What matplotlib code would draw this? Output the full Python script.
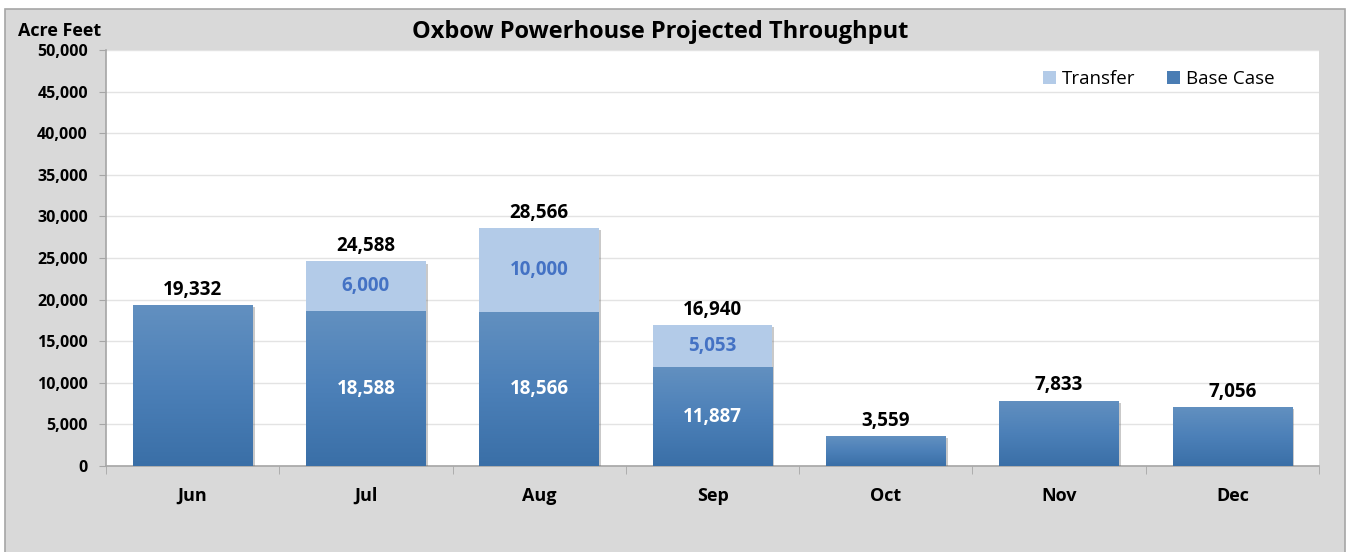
import matplotlib
matplotlib.use("Agg")
import matplotlib.pyplot as plt
import matplotlib.patheffects as pe
from matplotlib.patches import Rectangle, Patch
from matplotlib.colors import LinearSegmentedColormap
import numpy as np

months = ["Jun", "Jul", "Aug", "Sep", "Oct", "Nov", "Dec"]
base_case = [19332, 18588, 18566, 11887, 3559, 7833, 7056]
transfer = [0, 6000, 10000, 5053, 0, 0, 0]
y_ticks = [0, 5000, 10000, 15000, 20000, 25000, 30000, 35000, 40000, 45000, 50000]

plt.rcParams['font.family'] = ['Open Sans', 'DejaVu Sans']

fig = plt.figure(figsize=(13.49, 5.52), dpi=100)
fig.patch.set_facecolor("white")
# gray chart frame
fig.patches.append(Rectangle((5/1349, -0.01), 1340/1349, 1 - 9/552 + 0.01,
                             transform=fig.transFigure, facecolor="#d9d9d9",
                             edgecolor="#a6a6a6", linewidth=1.2, zorder=-5))

ax = fig.add_axes([106/1349, 1 - 466/552, (1319 - 106)/1349, (466 - 50)/552])
ax.set_zorder(2)
ax.set_facecolor("white")
x = np.arange(len(months))
width = 0.69

shadow = [pe.SimplePatchShadow(offset=(1.5, -1.5), shadow_rgbFace="#666666", alpha=0.35), pe.Normal()]

base_bars = ax.bar(x, base_case, width, color="#4a7db4", zorder=3, path_effects=shadow)
tops = [b + t for b, t in zip(base_case, transfer)]
trans_bars = ax.bar(x, transfer, width, bottom=base_case, color="#b3cbe8", zorder=3,
                    path_effects=shadow)

cmap = LinearSegmentedColormap.from_list("g", ["#3a6fa7", "#4c80b8", "#6290c0"])
grad = np.linspace(0, 1, 256).reshape(-1, 1)
for bar in base_bars:
    bx, by = bar.get_x(), bar.get_y()
    bw, bh = bar.get_width(), bar.get_height()
    im = ax.imshow(grad, extent=[bx, bx + bw, by, by + bh], origin="lower",
                   cmap=cmap, aspect="auto", zorder=4)
    im.set_clip_path(bar)

ax.set_xlim(-0.5, len(months) - 0.5)
ax.set_ylim(0, 50000)
ax.set_yticks(y_ticks)
ax.set_yticklabels([f"{v:,}" for v in y_ticks], fontsize=11.5, fontweight="bold")
ax.set_xticks(x)
ax.set_xticklabels(months, fontsize=13, fontweight="bold")
ax.tick_params(axis="x", length=0, pad=15)
ax.tick_params(axis="y", length=5, color="#a6a6a6", pad=8)
ax.set_xticks(np.arange(-0.5, len(months)), minor=True)
ax.tick_params(axis="x", which="minor", length=6, color="#a6a6a6", direction="out")
ax.grid(axis="y", color="#e3e3e3", linewidth=1, zorder=0)
ax.set_axisbelow(True)
for s in ["top", "right"]:
    ax.spines[s].set_visible(False)
for s in ["left", "bottom"]:
    ax.spines[s].set_color("#a6a6a6")
    ax.spines[s].set_linewidth(1.2)

for i in range(len(months)):
    ax.annotate(f"{tops[i]:,}", (x[i], tops[i]), xytext=(0, 4), textcoords="offset points",
                ha="center", va="bottom", fontsize=13.5, fontweight="bold", color="black", zorder=6)
    if transfer[i] > 0:
        ax.text(x[i], base_case[i] / 2, f"{base_case[i]:,}", ha="center", va="center",
                fontsize=13.5, fontweight="bold", color="white", zorder=6)
        ax.text(x[i], base_case[i] + transfer[i] / 2, f"{transfer[i]:,}", ha="center",
                va="center", fontsize=13.5, fontweight="bold", color="#4472c4", zorder=6)

handles = [Patch(facecolor="#b3cbe8", label="Transfer"), Patch(facecolor="#4a7db4", label="Base Case")]
leg = ax.legend(handles=handles, loc="upper right", ncol=2, frameon=False, fontsize=13.5,
                handlelength=0.7, handleheight=0.7, handletextpad=0.3, columnspacing=1.7,
                bbox_to_anchor=(0.977, 0.993))

fig.text(660/1349, 1 - 32/552, "Oxbow Powerhouse Projected Throughput", ha="center",
         va="center", fontsize=17, fontweight="bold")
fig.text(18/1349, 1 - 31/552, "Acre Feet", ha="left", va="center", fontsize=13,
         fontweight="bold")

fig.savefig("out.png", dpi=100)
